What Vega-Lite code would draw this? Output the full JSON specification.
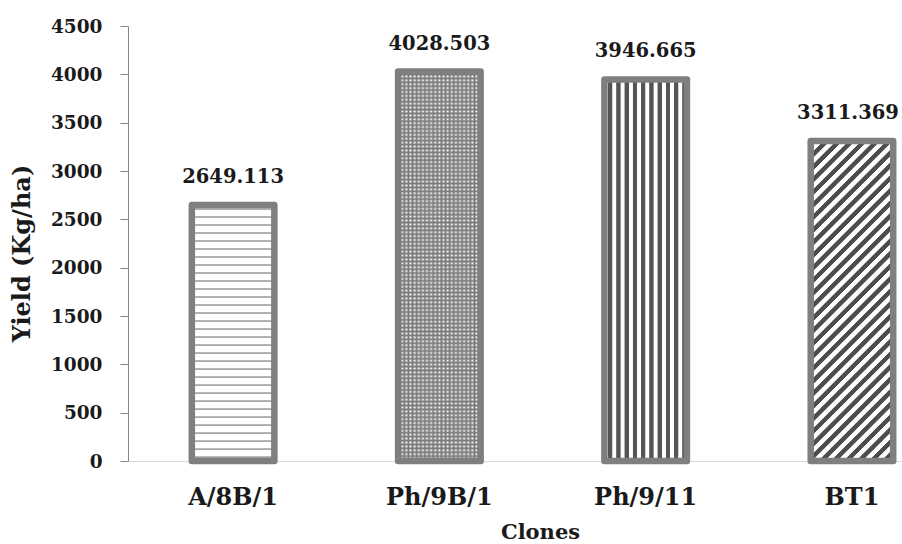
{
  "$schema": "https://vega.github.io/schema/vega-lite/v6.json",
  "autosize": "none",
  "width": 774,
  "height": 435,
  "padding": {"left": 128, "top": 26, "right": 0, "bottom": 83},
  "background": "#ffffff",
  "config": {"view": {"stroke": null}, "font": "DejaVu Serif"},
  "data": {
    "values": [
      {"clone": "A/8B/1", "yield": 2649.113},
      {"clone": "Ph/9B/1", "yield": 4028.503},
      {"clone": "Ph/9/11", "yield": 3946.665},
      {"clone": "BT1", "yield": 3311.369}
    ]
  },
  "encoding": {
    "x": {
      "field": "clone",
      "type": "nominal",
      "sort": null,
      "scale": {"paddingInner": 0.6, "paddingOuter": 0.176, "align": 0.879},
      "axis": {
        "title": "Clones",
        "titleFont": "DejaVu Serif",
        "titleFontWeight": "bold",
        "titleFontSize": 21,
        "titleColor": "#1a1a1a",
        "titleX": 412,
        "titleY": 77,
        "titleAlign": "center",
        "titleBaseline": "alphabetic",
        "labelAngle": 0,
        "labelFont": "DejaVu Serif",
        "labelFontWeight": "bold",
        "labelFontSize": 24,
        "labelColor": "#1a1a1a",
        "labelPadding": 24,
        "ticks": false,
        "domainColor": "#d9d9d9",
        "domainWidth": 1
      }
    },
    "y": {
      "field": "yield",
      "type": "quantitative",
      "scale": {"domain": [0, 4500], "nice": false},
      "axis": {
        "title": "Yield (Kg/ha)",
        "titleFont": "DejaVu Serif",
        "titleFontWeight": "bold",
        "titleFontSize": 24,
        "titleColor": "#1a1a1a",
        "titleAngle": 270,
        "titleX": -106,
        "titleY": 227,
        "titleAlign": "center",
        "titleBaseline": "middle",
        "values": [0, 500, 1000, 1500, 2000, 2500, 3000, 3500, 4000, 4500],
        "format": "d",
        "labelFont": "DejaVu Serif",
        "labelFontWeight": "bold",
        "labelFontSize": 18.5,
        "labelColor": "#1a1a1a",
        "labelPadding": 18,
        "tickSize": 8,
        "tickColor": "#868686",
        "domainColor": "#868686",
        "grid": false
      }
    }
  },
  "layer": [
    {
      "transform": [{"filter": "datum.clone === 'A/8B/1'"}],
      "mark": {
        "type": "bar",
        "strokeWidth": 0,
        "fill": {
          "gradient": "linear", "x1": 0, "y1": 0, "x2": 0, "y2": 1,
          "stops": [
            {"offset": 0, "color": "#fff"},
            {"offset": 0.011, "color": "#fff"}, {"offset": 0.016, "color": "#7f7f7f"}, {"offset": 0.021, "color": "#fff"},
            {"offset": 0.04225, "color": "#fff"}, {"offset": 0.04725, "color": "#7f7f7f"}, {"offset": 0.05225, "color": "#fff"},
            {"offset": 0.0735, "color": "#fff"}, {"offset": 0.0785, "color": "#7f7f7f"}, {"offset": 0.0835, "color": "#fff"},
            {"offset": 0.10475, "color": "#fff"}, {"offset": 0.10975, "color": "#7f7f7f"}, {"offset": 0.11475, "color": "#fff"},
            {"offset": 0.136, "color": "#fff"}, {"offset": 0.141, "color": "#7f7f7f"}, {"offset": 0.146, "color": "#fff"},
            {"offset": 0.16725, "color": "#fff"}, {"offset": 0.17225, "color": "#7f7f7f"}, {"offset": 0.17725, "color": "#fff"},
            {"offset": 0.1985, "color": "#fff"}, {"offset": 0.2035, "color": "#7f7f7f"}, {"offset": 0.2085, "color": "#fff"},
            {"offset": 0.22975, "color": "#fff"}, {"offset": 0.23475, "color": "#7f7f7f"}, {"offset": 0.23975, "color": "#fff"},
            {"offset": 0.261, "color": "#fff"}, {"offset": 0.266, "color": "#7f7f7f"}, {"offset": 0.271, "color": "#fff"},
            {"offset": 0.29225, "color": "#fff"}, {"offset": 0.29725, "color": "#7f7f7f"}, {"offset": 0.30225, "color": "#fff"},
            {"offset": 0.3235, "color": "#fff"}, {"offset": 0.3285, "color": "#7f7f7f"}, {"offset": 0.3335, "color": "#fff"},
            {"offset": 0.35475, "color": "#fff"}, {"offset": 0.35975, "color": "#7f7f7f"}, {"offset": 0.36475, "color": "#fff"},
            {"offset": 0.386, "color": "#fff"}, {"offset": 0.391, "color": "#7f7f7f"}, {"offset": 0.396, "color": "#fff"},
            {"offset": 0.41725, "color": "#fff"}, {"offset": 0.42225, "color": "#7f7f7f"}, {"offset": 0.42725, "color": "#fff"},
            {"offset": 0.4485, "color": "#fff"}, {"offset": 0.4535, "color": "#7f7f7f"}, {"offset": 0.4585, "color": "#fff"},
            {"offset": 0.47975, "color": "#fff"}, {"offset": 0.48475, "color": "#7f7f7f"}, {"offset": 0.48975, "color": "#fff"},
            {"offset": 0.511, "color": "#fff"}, {"offset": 0.516, "color": "#7f7f7f"}, {"offset": 0.521, "color": "#fff"},
            {"offset": 0.54225, "color": "#fff"}, {"offset": 0.54725, "color": "#7f7f7f"}, {"offset": 0.55225, "color": "#fff"},
            {"offset": 0.5735, "color": "#fff"}, {"offset": 0.5785, "color": "#7f7f7f"}, {"offset": 0.5835, "color": "#fff"},
            {"offset": 0.60475, "color": "#fff"}, {"offset": 0.60975, "color": "#7f7f7f"}, {"offset": 0.61475, "color": "#fff"},
            {"offset": 0.636, "color": "#fff"}, {"offset": 0.641, "color": "#7f7f7f"}, {"offset": 0.646, "color": "#fff"},
            {"offset": 0.66725, "color": "#fff"}, {"offset": 0.67225, "color": "#7f7f7f"}, {"offset": 0.67725, "color": "#fff"},
            {"offset": 0.6985, "color": "#fff"}, {"offset": 0.7035, "color": "#7f7f7f"}, {"offset": 0.7085, "color": "#fff"},
            {"offset": 0.72975, "color": "#fff"}, {"offset": 0.73475, "color": "#7f7f7f"}, {"offset": 0.73975, "color": "#fff"},
            {"offset": 0.761, "color": "#fff"}, {"offset": 0.766, "color": "#7f7f7f"}, {"offset": 0.771, "color": "#fff"},
            {"offset": 0.79225, "color": "#fff"}, {"offset": 0.79725, "color": "#7f7f7f"}, {"offset": 0.80225, "color": "#fff"},
            {"offset": 0.8235, "color": "#fff"}, {"offset": 0.8285, "color": "#7f7f7f"}, {"offset": 0.8335, "color": "#fff"},
            {"offset": 0.85475, "color": "#fff"}, {"offset": 0.85975, "color": "#7f7f7f"}, {"offset": 0.86475, "color": "#fff"},
            {"offset": 0.886, "color": "#fff"}, {"offset": 0.891, "color": "#7f7f7f"}, {"offset": 0.896, "color": "#fff"},
            {"offset": 0.91725, "color": "#fff"}, {"offset": 0.92225, "color": "#7f7f7f"}, {"offset": 0.92725, "color": "#fff"},
            {"offset": 0.9485, "color": "#fff"}, {"offset": 0.9535, "color": "#7f7f7f"}, {"offset": 0.9585, "color": "#fff"},
            {"offset": 0.97975, "color": "#fff"}, {"offset": 0.98475, "color": "#7f7f7f"}, {"offset": 0.98975, "color": "#fff"},
            {"offset": 1, "color": "#fff"}
          ]
        }
      }
    },
    {
      "transform": [{"filter": "datum.clone === 'Ph/9B/1'"}],
      "mark": {
        "type": "bar",
        "strokeWidth": 0,
        "fill": {
          "gradient": "linear", "x1": 0, "y1": 0, "x2": 0, "y2": 1,
          "stops": [
            {"offset": 0.0025, "color": "#fff"}, {"offset": 0.0075, "color": "#7a7a7a"},
            {"offset": 0.0125, "color": "#fff"}, {"offset": 0.0175, "color": "#7a7a7a"},
            {"offset": 0.0225, "color": "#fff"}, {"offset": 0.0275, "color": "#7a7a7a"},
            {"offset": 0.0325, "color": "#fff"}, {"offset": 0.0375, "color": "#7a7a7a"},
            {"offset": 0.0425, "color": "#fff"}, {"offset": 0.0475, "color": "#7a7a7a"},
            {"offset": 0.0525, "color": "#fff"}, {"offset": 0.0575, "color": "#7a7a7a"},
            {"offset": 0.0625, "color": "#fff"}, {"offset": 0.0675, "color": "#7a7a7a"},
            {"offset": 0.0725, "color": "#fff"}, {"offset": 0.0775, "color": "#7a7a7a"},
            {"offset": 0.0825, "color": "#fff"}, {"offset": 0.0875, "color": "#7a7a7a"},
            {"offset": 0.0925, "color": "#fff"}, {"offset": 0.0975, "color": "#7a7a7a"},
            {"offset": 0.1025, "color": "#fff"}, {"offset": 0.1075, "color": "#7a7a7a"},
            {"offset": 0.1125, "color": "#fff"}, {"offset": 0.1175, "color": "#7a7a7a"},
            {"offset": 0.1225, "color": "#fff"}, {"offset": 0.1275, "color": "#7a7a7a"},
            {"offset": 0.1325, "color": "#fff"}, {"offset": 0.1375, "color": "#7a7a7a"},
            {"offset": 0.1425, "color": "#fff"}, {"offset": 0.1475, "color": "#7a7a7a"},
            {"offset": 0.1525, "color": "#fff"}, {"offset": 0.1575, "color": "#7a7a7a"},
            {"offset": 0.1625, "color": "#fff"}, {"offset": 0.1675, "color": "#7a7a7a"},
            {"offset": 0.1725, "color": "#fff"}, {"offset": 0.1775, "color": "#7a7a7a"},
            {"offset": 0.1825, "color": "#fff"}, {"offset": 0.1875, "color": "#7a7a7a"},
            {"offset": 0.1925, "color": "#fff"}, {"offset": 0.1975, "color": "#7a7a7a"},
            {"offset": 0.2025, "color": "#fff"}, {"offset": 0.2075, "color": "#7a7a7a"},
            {"offset": 0.2125, "color": "#fff"}, {"offset": 0.2175, "color": "#7a7a7a"},
            {"offset": 0.2225, "color": "#fff"}, {"offset": 0.2275, "color": "#7a7a7a"},
            {"offset": 0.2325, "color": "#fff"}, {"offset": 0.2375, "color": "#7a7a7a"},
            {"offset": 0.2425, "color": "#fff"}, {"offset": 0.2475, "color": "#7a7a7a"},
            {"offset": 0.2525, "color": "#fff"}, {"offset": 0.2575, "color": "#7a7a7a"},
            {"offset": 0.2625, "color": "#fff"}, {"offset": 0.2675, "color": "#7a7a7a"},
            {"offset": 0.2725, "color": "#fff"}, {"offset": 0.2775, "color": "#7a7a7a"},
            {"offset": 0.2825, "color": "#fff"}, {"offset": 0.2875, "color": "#7a7a7a"},
            {"offset": 0.2925, "color": "#fff"}, {"offset": 0.2975, "color": "#7a7a7a"},
            {"offset": 0.3025, "color": "#fff"}, {"offset": 0.3075, "color": "#7a7a7a"},
            {"offset": 0.3125, "color": "#fff"}, {"offset": 0.3175, "color": "#7a7a7a"},
            {"offset": 0.3225, "color": "#fff"}, {"offset": 0.3275, "color": "#7a7a7a"},
            {"offset": 0.3325, "color": "#fff"}, {"offset": 0.3375, "color": "#7a7a7a"},
            {"offset": 0.3425, "color": "#fff"}, {"offset": 0.3475, "color": "#7a7a7a"},
            {"offset": 0.3525, "color": "#fff"}, {"offset": 0.3575, "color": "#7a7a7a"},
            {"offset": 0.3625, "color": "#fff"}, {"offset": 0.3675, "color": "#7a7a7a"},
            {"offset": 0.3725, "color": "#fff"}, {"offset": 0.3775, "color": "#7a7a7a"},
            {"offset": 0.3825, "color": "#fff"}, {"offset": 0.3875, "color": "#7a7a7a"},
            {"offset": 0.3925, "color": "#fff"}, {"offset": 0.3975, "color": "#7a7a7a"},
            {"offset": 0.4025, "color": "#fff"}, {"offset": 0.4075, "color": "#7a7a7a"},
            {"offset": 0.4125, "color": "#fff"}, {"offset": 0.4175, "color": "#7a7a7a"},
            {"offset": 0.4225, "color": "#fff"}, {"offset": 0.4275, "color": "#7a7a7a"},
            {"offset": 0.4325, "color": "#fff"}, {"offset": 0.4375, "color": "#7a7a7a"},
            {"offset": 0.4425, "color": "#fff"}, {"offset": 0.4475, "color": "#7a7a7a"},
            {"offset": 0.4525, "color": "#fff"}, {"offset": 0.4575, "color": "#7a7a7a"},
            {"offset": 0.4625, "color": "#fff"}, {"offset": 0.4675, "color": "#7a7a7a"},
            {"offset": 0.4725, "color": "#fff"}, {"offset": 0.4775, "color": "#7a7a7a"},
            {"offset": 0.4825, "color": "#fff"}, {"offset": 0.4875, "color": "#7a7a7a"},
            {"offset": 0.4925, "color": "#fff"}, {"offset": 0.4975, "color": "#7a7a7a"},
            {"offset": 0.5025, "color": "#fff"}, {"offset": 0.5075, "color": "#7a7a7a"},
            {"offset": 0.5125, "color": "#fff"}, {"offset": 0.5175, "color": "#7a7a7a"},
            {"offset": 0.5225, "color": "#fff"}, {"offset": 0.5275, "color": "#7a7a7a"},
            {"offset": 0.5325, "color": "#fff"}, {"offset": 0.5375, "color": "#7a7a7a"},
            {"offset": 0.5425, "color": "#fff"}, {"offset": 0.5475, "color": "#7a7a7a"},
            {"offset": 0.5525, "color": "#fff"}, {"offset": 0.5575, "color": "#7a7a7a"},
            {"offset": 0.5625, "color": "#fff"}, {"offset": 0.5675, "color": "#7a7a7a"},
            {"offset": 0.5725, "color": "#fff"}, {"offset": 0.5775, "color": "#7a7a7a"},
            {"offset": 0.5825, "color": "#fff"}, {"offset": 0.5875, "color": "#7a7a7a"},
            {"offset": 0.5925, "color": "#fff"}, {"offset": 0.5975, "color": "#7a7a7a"},
            {"offset": 0.6025, "color": "#fff"}, {"offset": 0.6075, "color": "#7a7a7a"},
            {"offset": 0.6125, "color": "#fff"}, {"offset": 0.6175, "color": "#7a7a7a"},
            {"offset": 0.6225, "color": "#fff"}, {"offset": 0.6275, "color": "#7a7a7a"},
            {"offset": 0.6325, "color": "#fff"}, {"offset": 0.6375, "color": "#7a7a7a"},
            {"offset": 0.6425, "color": "#fff"}, {"offset": 0.6475, "color": "#7a7a7a"},
            {"offset": 0.6525, "color": "#fff"}, {"offset": 0.6575, "color": "#7a7a7a"},
            {"offset": 0.6625, "color": "#fff"}, {"offset": 0.6675, "color": "#7a7a7a"},
            {"offset": 0.6725, "color": "#fff"}, {"offset": 0.6775, "color": "#7a7a7a"},
            {"offset": 0.6825, "color": "#fff"}, {"offset": 0.6875, "color": "#7a7a7a"},
            {"offset": 0.6925, "color": "#fff"}, {"offset": 0.6975, "color": "#7a7a7a"},
            {"offset": 0.7025, "color": "#fff"}, {"offset": 0.7075, "color": "#7a7a7a"},
            {"offset": 0.7125, "color": "#fff"}, {"offset": 0.7175, "color": "#7a7a7a"},
            {"offset": 0.7225, "color": "#fff"}, {"offset": 0.7275, "color": "#7a7a7a"},
            {"offset": 0.7325, "color": "#fff"}, {"offset": 0.7375, "color": "#7a7a7a"},
            {"offset": 0.7425, "color": "#fff"}, {"offset": 0.7475, "color": "#7a7a7a"},
            {"offset": 0.7525, "color": "#fff"}, {"offset": 0.7575, "color": "#7a7a7a"},
            {"offset": 0.7625, "color": "#fff"}, {"offset": 0.7675, "color": "#7a7a7a"},
            {"offset": 0.7725, "color": "#fff"}, {"offset": 0.7775, "color": "#7a7a7a"},
            {"offset": 0.7825, "color": "#fff"}, {"offset": 0.7875, "color": "#7a7a7a"},
            {"offset": 0.7925, "color": "#fff"}, {"offset": 0.7975, "color": "#7a7a7a"},
            {"offset": 0.8025, "color": "#fff"}, {"offset": 0.8075, "color": "#7a7a7a"},
            {"offset": 0.8125, "color": "#fff"}, {"offset": 0.8175, "color": "#7a7a7a"},
            {"offset": 0.8225, "color": "#fff"}, {"offset": 0.8275, "color": "#7a7a7a"},
            {"offset": 0.8325, "color": "#fff"}, {"offset": 0.8375, "color": "#7a7a7a"},
            {"offset": 0.8425, "color": "#fff"}, {"offset": 0.8475, "color": "#7a7a7a"},
            {"offset": 0.8525, "color": "#fff"}, {"offset": 0.8575, "color": "#7a7a7a"},
            {"offset": 0.8625, "color": "#fff"}, {"offset": 0.8675, "color": "#7a7a7a"},
            {"offset": 0.8725, "color": "#fff"}, {"offset": 0.8775, "color": "#7a7a7a"},
            {"offset": 0.8825, "color": "#fff"}, {"offset": 0.8875, "color": "#7a7a7a"},
            {"offset": 0.8925, "color": "#fff"}, {"offset": 0.8975, "color": "#7a7a7a"},
            {"offset": 0.9025, "color": "#fff"}, {"offset": 0.9075, "color": "#7a7a7a"},
            {"offset": 0.9125, "color": "#fff"}, {"offset": 0.9175, "color": "#7a7a7a"},
            {"offset": 0.9225, "color": "#fff"}, {"offset": 0.9275, "color": "#7a7a7a"},
            {"offset": 0.9325, "color": "#fff"}, {"offset": 0.9375, "color": "#7a7a7a"},
            {"offset": 0.9425, "color": "#fff"}, {"offset": 0.9475, "color": "#7a7a7a"},
            {"offset": 0.9525, "color": "#fff"}, {"offset": 0.9575, "color": "#7a7a7a"},
            {"offset": 0.9625, "color": "#fff"}, {"offset": 0.9675, "color": "#7a7a7a"},
            {"offset": 0.9725, "color": "#fff"}, {"offset": 0.9775, "color": "#7a7a7a"},
            {"offset": 0.9825, "color": "#fff"}, {"offset": 0.9875, "color": "#7a7a7a"},
            {"offset": 0.9925, "color": "#fff"}, {"offset": 0.9975, "color": "#7a7a7a"}
          ]
        }
      }
    },
    {
      "transform": [{"filter": "datum.clone === 'Ph/9B/1'"}],
      "mark": {
        "type": "bar",
        "strokeWidth": 0,
        "fill": {
          "gradient": "linear", "x1": 0, "y1": 0, "x2": 1, "y2": 0,
          "stops": [
            {"offset": 0, "color": "rgba(122,122,122,0)"}, {"offset": 0.025, "color": "rgba(122,122,122,1)"},
            {"offset": 0.05, "color": "rgba(122,122,122,0)"}, {"offset": 0.075, "color": "rgba(122,122,122,1)"},
            {"offset": 0.1, "color": "rgba(122,122,122,0)"}, {"offset": 0.125, "color": "rgba(122,122,122,1)"},
            {"offset": 0.15, "color": "rgba(122,122,122,0)"}, {"offset": 0.175, "color": "rgba(122,122,122,1)"},
            {"offset": 0.2, "color": "rgba(122,122,122,0)"}, {"offset": 0.225, "color": "rgba(122,122,122,1)"},
            {"offset": 0.25, "color": "rgba(122,122,122,0)"}, {"offset": 0.275, "color": "rgba(122,122,122,1)"},
            {"offset": 0.3, "color": "rgba(122,122,122,0)"}, {"offset": 0.325, "color": "rgba(122,122,122,1)"},
            {"offset": 0.35, "color": "rgba(122,122,122,0)"}, {"offset": 0.375, "color": "rgba(122,122,122,1)"},
            {"offset": 0.4, "color": "rgba(122,122,122,0)"}, {"offset": 0.425, "color": "rgba(122,122,122,1)"},
            {"offset": 0.45, "color": "rgba(122,122,122,0)"}, {"offset": 0.475, "color": "rgba(122,122,122,1)"},
            {"offset": 0.5, "color": "rgba(122,122,122,0)"}, {"offset": 0.525, "color": "rgba(122,122,122,1)"},
            {"offset": 0.55, "color": "rgba(122,122,122,0)"}, {"offset": 0.575, "color": "rgba(122,122,122,1)"},
            {"offset": 0.6, "color": "rgba(122,122,122,0)"}, {"offset": 0.625, "color": "rgba(122,122,122,1)"},
            {"offset": 0.65, "color": "rgba(122,122,122,0)"}, {"offset": 0.675, "color": "rgba(122,122,122,1)"},
            {"offset": 0.7, "color": "rgba(122,122,122,0)"}, {"offset": 0.725, "color": "rgba(122,122,122,1)"},
            {"offset": 0.75, "color": "rgba(122,122,122,0)"}, {"offset": 0.775, "color": "rgba(122,122,122,1)"},
            {"offset": 0.8, "color": "rgba(122,122,122,0)"}, {"offset": 0.825, "color": "rgba(122,122,122,1)"},
            {"offset": 0.85, "color": "rgba(122,122,122,0)"}, {"offset": 0.875, "color": "rgba(122,122,122,1)"},
            {"offset": 0.9, "color": "rgba(122,122,122,0)"}, {"offset": 0.925, "color": "rgba(122,122,122,1)"},
            {"offset": 0.95, "color": "rgba(122,122,122,0)"}, {"offset": 0.975, "color": "rgba(122,122,122,1)"},
            {"offset": 1, "color": "rgba(122,122,122,0)"}
          ]
        }
      }
    },
    {
      "transform": [{"filter": "datum.clone === 'Ph/9/11'"}],
      "mark": {
        "type": "bar",
        "strokeWidth": 0,
        "fill": {
          "gradient": "linear", "x1": 0, "y1": 0, "x2": 1, "y2": 0,
          "stops": [
            {"offset": 0, "color": "#fff"},
            {"offset": 0.04, "color": "#fff"}, {"offset": 0.048, "color": "#555"}, {"offset": 0.092, "color": "#555"}, {"offset": 0.1, "color": "#fff"},
            {"offset": 0.14, "color": "#fff"}, {"offset": 0.148, "color": "#555"}, {"offset": 0.192, "color": "#555"}, {"offset": 0.2, "color": "#fff"},
            {"offset": 0.24, "color": "#fff"}, {"offset": 0.248, "color": "#555"}, {"offset": 0.292, "color": "#555"}, {"offset": 0.3, "color": "#fff"},
            {"offset": 0.34, "color": "#fff"}, {"offset": 0.348, "color": "#555"}, {"offset": 0.392, "color": "#555"}, {"offset": 0.4, "color": "#fff"},
            {"offset": 0.44, "color": "#fff"}, {"offset": 0.448, "color": "#555"}, {"offset": 0.492, "color": "#555"}, {"offset": 0.5, "color": "#fff"},
            {"offset": 0.54, "color": "#fff"}, {"offset": 0.548, "color": "#555"}, {"offset": 0.592, "color": "#555"}, {"offset": 0.6, "color": "#fff"},
            {"offset": 0.64, "color": "#fff"}, {"offset": 0.648, "color": "#555"}, {"offset": 0.692, "color": "#555"}, {"offset": 0.7, "color": "#fff"},
            {"offset": 0.74, "color": "#fff"}, {"offset": 0.748, "color": "#555"}, {"offset": 0.792, "color": "#555"}, {"offset": 0.8, "color": "#fff"},
            {"offset": 0.84, "color": "#fff"}, {"offset": 0.848, "color": "#555"}, {"offset": 0.892, "color": "#555"}, {"offset": 0.9, "color": "#fff"},
            {"offset": 0.94, "color": "#fff"}, {"offset": 0.948, "color": "#555"}, {"offset": 0.992, "color": "#555"}, {"offset": 1, "color": "#fff"}
          ]
        }
      }
    },
    {
      "transform": [{"filter": "datum.clone === 'BT1'"}],
      "mark": {
        "type": "bar",
        "strokeWidth": 0,
        "fill": {
          "gradient": "linear", "x1": 0, "y1": 0, "x2": 0.3039, "y2": 1.1794,
          "stops": [
            {"offset": 0, "color": "#fff"}, {"offset": 0.002, "color": "#4d4d4d"}, {"offset": 0.0156, "color": "#4d4d4d"}, {"offset": 0.0176, "color": "#fff"},
            {"offset": 0.03125, "color": "#fff"}, {"offset": 0.03325, "color": "#4d4d4d"}, {"offset": 0.04685, "color": "#4d4d4d"}, {"offset": 0.04885, "color": "#fff"},
            {"offset": 0.0625, "color": "#fff"}, {"offset": 0.0645, "color": "#4d4d4d"}, {"offset": 0.0781, "color": "#4d4d4d"}, {"offset": 0.0801, "color": "#fff"},
            {"offset": 0.09375, "color": "#fff"}, {"offset": 0.09575, "color": "#4d4d4d"}, {"offset": 0.10935, "color": "#4d4d4d"}, {"offset": 0.11135, "color": "#fff"},
            {"offset": 0.125, "color": "#fff"}, {"offset": 0.127, "color": "#4d4d4d"}, {"offset": 0.1406, "color": "#4d4d4d"}, {"offset": 0.1426, "color": "#fff"},
            {"offset": 0.15625, "color": "#fff"}, {"offset": 0.15825, "color": "#4d4d4d"}, {"offset": 0.17185, "color": "#4d4d4d"}, {"offset": 0.17385, "color": "#fff"},
            {"offset": 0.1875, "color": "#fff"}, {"offset": 0.1895, "color": "#4d4d4d"}, {"offset": 0.2031, "color": "#4d4d4d"}, {"offset": 0.2051, "color": "#fff"},
            {"offset": 0.21875, "color": "#fff"}, {"offset": 0.22075, "color": "#4d4d4d"}, {"offset": 0.23435, "color": "#4d4d4d"}, {"offset": 0.23635, "color": "#fff"},
            {"offset": 0.25, "color": "#fff"}, {"offset": 0.252, "color": "#4d4d4d"}, {"offset": 0.2656, "color": "#4d4d4d"}, {"offset": 0.2676, "color": "#fff"},
            {"offset": 0.28125, "color": "#fff"}, {"offset": 0.28325, "color": "#4d4d4d"}, {"offset": 0.29685, "color": "#4d4d4d"}, {"offset": 0.29885, "color": "#fff"},
            {"offset": 0.3125, "color": "#fff"}, {"offset": 0.3145, "color": "#4d4d4d"}, {"offset": 0.3281, "color": "#4d4d4d"}, {"offset": 0.3301, "color": "#fff"},
            {"offset": 0.34375, "color": "#fff"}, {"offset": 0.34575, "color": "#4d4d4d"}, {"offset": 0.35935, "color": "#4d4d4d"}, {"offset": 0.36135, "color": "#fff"},
            {"offset": 0.375, "color": "#fff"}, {"offset": 0.377, "color": "#4d4d4d"}, {"offset": 0.3906, "color": "#4d4d4d"}, {"offset": 0.3926, "color": "#fff"},
            {"offset": 0.40625, "color": "#fff"}, {"offset": 0.40825, "color": "#4d4d4d"}, {"offset": 0.42185, "color": "#4d4d4d"}, {"offset": 0.42385, "color": "#fff"},
            {"offset": 0.4375, "color": "#fff"}, {"offset": 0.4395, "color": "#4d4d4d"}, {"offset": 0.4531, "color": "#4d4d4d"}, {"offset": 0.4551, "color": "#fff"},
            {"offset": 0.46875, "color": "#fff"}, {"offset": 0.47075, "color": "#4d4d4d"}, {"offset": 0.48435, "color": "#4d4d4d"}, {"offset": 0.48635, "color": "#fff"},
            {"offset": 0.5, "color": "#fff"}, {"offset": 0.502, "color": "#4d4d4d"}, {"offset": 0.5156, "color": "#4d4d4d"}, {"offset": 0.5176, "color": "#fff"},
            {"offset": 0.53125, "color": "#fff"}, {"offset": 0.53325, "color": "#4d4d4d"}, {"offset": 0.54685, "color": "#4d4d4d"}, {"offset": 0.54885, "color": "#fff"},
            {"offset": 0.5625, "color": "#fff"}, {"offset": 0.5645, "color": "#4d4d4d"}, {"offset": 0.5781, "color": "#4d4d4d"}, {"offset": 0.5801, "color": "#fff"},
            {"offset": 0.59375, "color": "#fff"}, {"offset": 0.59575, "color": "#4d4d4d"}, {"offset": 0.60935, "color": "#4d4d4d"}, {"offset": 0.61135, "color": "#fff"},
            {"offset": 0.625, "color": "#fff"}, {"offset": 0.627, "color": "#4d4d4d"}, {"offset": 0.6406, "color": "#4d4d4d"}, {"offset": 0.6426, "color": "#fff"},
            {"offset": 0.65625, "color": "#fff"}, {"offset": 0.65825, "color": "#4d4d4d"}, {"offset": 0.67185, "color": "#4d4d4d"}, {"offset": 0.67385, "color": "#fff"},
            {"offset": 0.6875, "color": "#fff"}, {"offset": 0.6895, "color": "#4d4d4d"}, {"offset": 0.7031, "color": "#4d4d4d"}, {"offset": 0.7051, "color": "#fff"},
            {"offset": 0.71875, "color": "#fff"}, {"offset": 0.72075, "color": "#4d4d4d"}, {"offset": 0.73435, "color": "#4d4d4d"}, {"offset": 0.73635, "color": "#fff"},
            {"offset": 0.75, "color": "#fff"}, {"offset": 0.752, "color": "#4d4d4d"}, {"offset": 0.7656, "color": "#4d4d4d"}, {"offset": 0.7676, "color": "#fff"},
            {"offset": 0.78125, "color": "#fff"}, {"offset": 0.78325, "color": "#4d4d4d"}, {"offset": 0.79685, "color": "#4d4d4d"}, {"offset": 0.79885, "color": "#fff"},
            {"offset": 0.8125, "color": "#fff"}, {"offset": 0.8145, "color": "#4d4d4d"}, {"offset": 0.8281, "color": "#4d4d4d"}, {"offset": 0.8301, "color": "#fff"},
            {"offset": 0.84375, "color": "#fff"}, {"offset": 0.84575, "color": "#4d4d4d"}, {"offset": 0.85935, "color": "#4d4d4d"}, {"offset": 0.86135, "color": "#fff"},
            {"offset": 0.875, "color": "#fff"}, {"offset": 0.877, "color": "#4d4d4d"}, {"offset": 0.8906, "color": "#4d4d4d"}, {"offset": 0.8926, "color": "#fff"},
            {"offset": 0.90625, "color": "#fff"}, {"offset": 0.90825, "color": "#4d4d4d"}, {"offset": 0.92185, "color": "#4d4d4d"}, {"offset": 0.92385, "color": "#fff"},
            {"offset": 0.9375, "color": "#fff"}, {"offset": 0.9395, "color": "#4d4d4d"}, {"offset": 0.9531, "color": "#4d4d4d"}, {"offset": 0.9551, "color": "#fff"},
            {"offset": 0.96875, "color": "#fff"}, {"offset": 0.97075, "color": "#4d4d4d"}, {"offset": 0.98435, "color": "#4d4d4d"}, {"offset": 0.98635, "color": "#fff"},
            {"offset": 1, "color": "#fff"}
          ]
        }
      }
    },
    {
      "mark": {
        "type": "bar",
        "fill": "#ffffff",
        "fillOpacity": 0,
        "stroke": "#7f7f7f",
        "strokeWidth": 6.5,
        "strokeJoin": "round"
      }
    },
    {
      "transform": [{"filter": "datum.clone !== 'BT1'"}],
      "mark": {
        "type": "text",
        "font": "DejaVu Serif",
        "fontWeight": "bold",
        "fontSize": 19.5,
        "color": "#1a1a1a",
        "baseline": "alphabetic",
        "dy": -22
      },
      "encoding": {
        "text": {"field": "yield", "type": "quantitative", "format": ".3f"}
      }
    },
    {
      "transform": [{"filter": "datum.clone === 'BT1'"}],
      "mark": {
        "type": "text",
        "font": "DejaVu Serif",
        "fontWeight": "bold",
        "fontSize": 19.5,
        "color": "#1a1a1a",
        "baseline": "alphabetic",
        "dy": -22,
        "dx": -4
      },
      "encoding": {
        "text": {"field": "yield", "type": "quantitative", "format": ".3f"}
      }
    }
  ]
}
